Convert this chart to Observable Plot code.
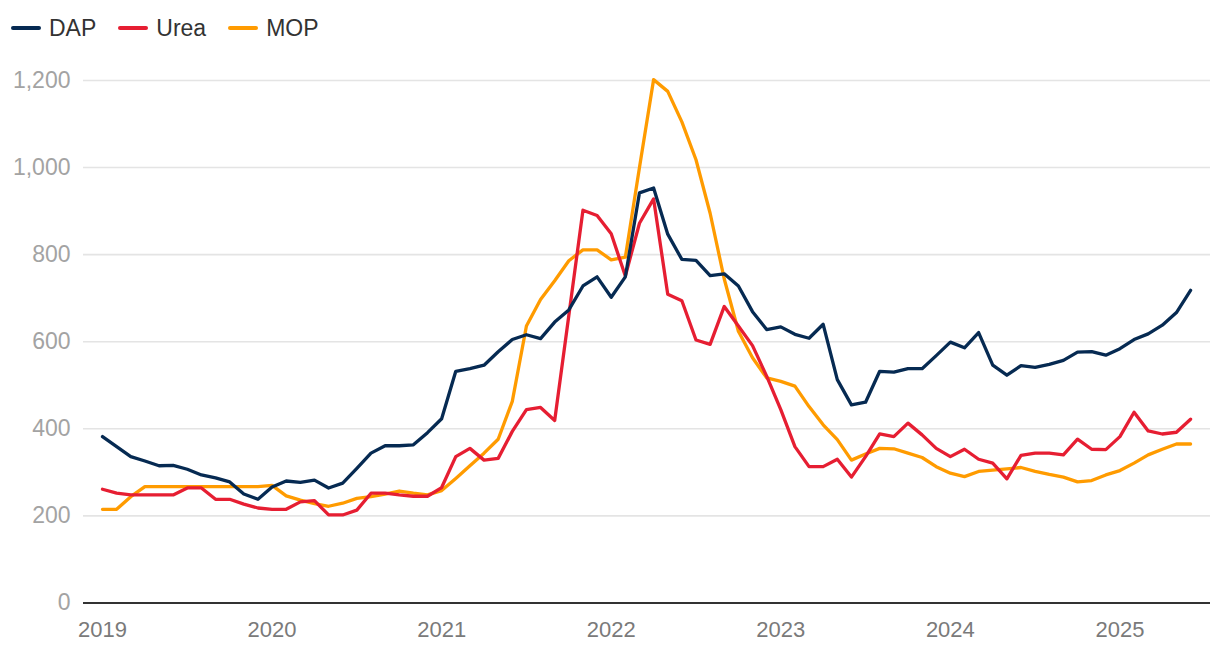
<!DOCTYPE html>
<html>
<head>
<meta charset="utf-8">
<script src="https://cdn.jsdelivr.net/npm/d3@7"></script>
<script src="https://cdn.jsdelivr.net/npm/@observablehq/plot@0.6"></script>
<style>
  html, body { margin: 0; padding: 0; background: #fff; }
  body { width: 1220px; height: 650px; overflow: hidden; font-family: "Liberation Sans", Arial, Helvetica, sans-serif; }
  #legend { height: 50px; box-sizing: border-box; padding-top: 6px; padding-left: 11px; display: flex; align-items: center; font-size: 23px; color: #333; }
  .item { display: flex; align-items: center; margin-right: 22px; }
  .sw { display: inline-block; width: 30px; height: 4px; border-radius: 2px; margin-right: 8px; }
  #chart svg { display: block; }
</style>
</head>
<body>
<div id="legend"></div>
<div id="chart"></div>
<script>
// Monthly prices, US$/t, Jan 2019 – Jun 2025
const seriesNames = ["DAP", "Urea", "MOP"];
const seriesColors = ["#062a52", "#e61e32", "#ff9b00"];
const years = ["2019", "2020", "2021", "2022", "2023", "2024", "2025"];
const yTicks = [0, 200, 400, 600, 800, 1000, 1200];

const dap = [
  382,359,336,326,315,316,307,294,287,278,250,238,
  266,280,277,282,264,275,309,344,361,361,363,391,
  423,532,538,546,577,605,616,607,645,673,728,749,
  702,749,942,953,847,789,787,752,756,728,669,628,
  634,617,608,640,513,455,461,532,530,538,538,568,
  599,586,621,546,523,545,541,548,557,576,577,569,
  584,605,618,638,667,718
];
const urea = [
  261,252,248,248,248,248,264,264,238,238,227,218,
  215,215,232,235,202,202,213,252,252,248,245,245,
  265,336,355,328,332,394,444,449,419,660,902,890,
  848,751,872,928,709,694,604,594,681,636,591,521,
  444,359,313,313,330,289,336,388,382,413,386,355,
  336,353,330,321,285,339,344,344,340,376,353,352,
  382,438,395,388,392,422
];
const mop = [
  215,215,244,267,267,267,267,267,267,267,267,267,
  270,246,236,228,222,229,240,244,250,257,252,248,
  258,286,315,344,376,463,636,697,740,786,811,811,
  788,794,1000,1202,1175,1105,1018,895,744,624,563,517,
  509,498,451,409,375,328,342,355,354,344,334,313,
  298,290,302,305,308,311,302,295,289,278,281,294,
  304,321,340,353,365,365
];

const seriesValues = [dap, urea, mop];
const rows = seriesValues.map((vals, s) => vals.map((v, i) => ({ i, v, series: seriesNames[s] })));

// legend
const legend = document.getElementById("legend");
seriesNames.forEach((n, k) => {
  const it = document.createElement("div");
  it.className = "item";
  const sw = document.createElement("span");
  sw.className = "sw";
  sw.style.background = seriesColors[k];
  const t = document.createElement("span");
  t.textContent = n;
  it.appendChild(sw); it.appendChild(t);
  legend.appendChild(it);
});

const xTicks = years.map((y, k) => k * 12);

const chart = Plot.plot({
  width: 1220,
  height: 600,
  marginLeft: 83,
  marginRight: 10,
  marginTop: 30,
  marginBottom: 47.6,
  style: { fontFamily: "Liberation Sans, Arial, Helvetica, sans-serif", background: "#fff" },
  x: { domain: [-1.345, 78.41] },
  y: { domain: [0, 1200] },
  marks: [
    Plot.gridY(yTicks.slice(1), { stroke: "#e4e4e4", strokeOpacity: 1, strokeWidth: 1.6 }),
    Plot.axisY(yTicks, { tickSize: 0, tickPadding: 13, tickFormat: d3.format(","), fontSize: 23, fill: "#a3a3a3", label: null }),
    Plot.axisX(xTicks, { tickSize: 0, tickPadding: 18, tickFormat: d => years[Math.round(d / 12)], fontSize: 22, fill: "#7a7a7a", label: null }),
    Plot.ruleY([0], { stroke: "#333", strokeWidth: 2 }),
    Plot.line(rows[2], { x: "i", y: "v", stroke: seriesColors[2], strokeWidth: 3.3, strokeLinejoin: "round", strokeLinecap: "round" }),
    Plot.line(rows[1], { x: "i", y: "v", stroke: seriesColors[1], strokeWidth: 3.3, strokeLinejoin: "round", strokeLinecap: "round" }),
    Plot.line(rows[0], { x: "i", y: "v", stroke: seriesColors[0], strokeWidth: 3.3, strokeLinejoin: "round", strokeLinecap: "round" })
  ]
});
document.getElementById("chart").appendChild(chart);
</script>
</body>
</html>
